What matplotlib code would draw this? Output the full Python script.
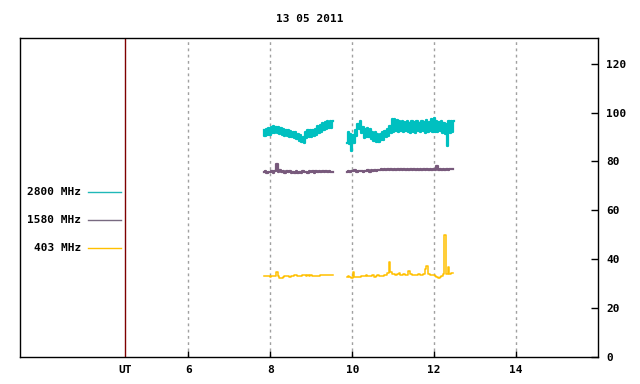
import numpy as np
import matplotlib
matplotlib.use("Agg")
import matplotlib.pyplot as plt
from matplotlib.lines import Line2D

title = "13 05 2011"
x_ticks = [4.45, 6, 8, 10, 12, 14]
x_tick_labels = ["UT", "6", "8", "10", "12", "14"]
y_ticks = [0, 20, 40, 60, 80, 100, 120]
grid_hours = [6, 8, 10, 12, 14]
ut_hour = 4.45
labels = ["2800 MHz", "1580 MHz", "403 MHz"]
colors = ["#00c0c0", "#785a7c", "#ffc000"]
legend_colors = ["#20b8b8", "#786a80", "#ffc000"]

seg1_start, seg2_start = 7.84, 9.87
step_fast, step_slow = 0.03, 0.04

f2800_seg1 = [92.9, 90.4, 93.3, 90.8, 93.5, 91.0, 94.0, 91.6, 94.4, 91.8, 94.2, 91.5,
              93.9, 91.2, 93.6, 90.9, 93.3, 90.6, 93.0, 90.4, 92.8, 90.2, 92.6, 89.9,
              92.2, 89.5, 91.9, 89.1, 91.4, 88.5, 90.9, 87.9, 90.2, 87.5, 92.2, 89.6,
              93.0, 90.2, 92.7, 90.0, 93.0, 90.5, 93.4, 90.9, 94.4, 91.7, 95.0, 92.2,
              95.7, 92.8, 96.0, 93.1, 96.4, 93.6, 96.7, 93.8, 96.4]
f2800_seg2 = [87.6, 91.9, 87.1, 91.4, 84.1, 90.9, 87.6, 92.9, 90.6, 95.4, 93.1, 96.4,
              91.6, 93.9, 89.6, 93.2, 89.8, 93.6, 90.1, 93.2, 89.1, 92.2, 88.3, 91.9,
              87.8, 91.2, 88.1, 91.4, 88.6, 91.9, 88.9, 92.4, 89.8, 93.2, 90.6, 94.6,
              91.6, 97.4, 92.1, 97.2, 92.6, 96.9, 92.2, 96.6, 92.6, 96.4, 91.9, 96.2,
              92.4, 96.7, 92.1, 95.9, 91.8, 96.4, 92.2, 96.1, 91.6, 96.6, 92.5, 95.8,
              92.0, 96.5, 92.3, 96.2, 91.7, 96.8, 92.1, 96.3, 92.4, 97.2, 92.0, 97.7,
              92.2, 96.4, 91.9, 96.1, 92.3, 96.6, 91.6, 95.9, 91.1, 95.2, 86.4, 96.4,
              91.6, 96.6, 92.1, 96.4]

f1580_seg1 = [75.5, 75.9, 75.3, 75.8, 75.6, 76.0, 75.4, 75.9, 79.0, 75.7, 76.3, 75.6,
              76.1, 75.3, 75.9, 75.5, 76.0, 75.2, 75.8, 75.4, 75.9, 75.1, 75.7, 75.3,
              75.9, 75.5, 75.8, 75.2, 75.9, 75.6, 76.0, 75.4, 75.9, 75.6, 76.1, 75.5,
              75.9, 75.6, 76.1, 75.7, 76.0, 75.5, 75.8]
f1580_seg2 = [75.8, 76.2, 75.6, 76.1, 75.9, 76.3, 75.8, 76.2, 75.9, 76.1, 75.7, 76.2,
              75.9, 76.3, 75.8, 76.4, 76.0, 76.5, 76.1, 76.6, 76.3, 76.8, 76.4, 76.9,
              76.5, 77.0, 76.6, 76.9, 76.5, 77.0, 76.6, 76.9, 76.5, 77.0, 76.7, 76.9,
              76.6, 77.0, 76.7, 76.9, 76.5, 76.9, 76.6, 77.0, 76.7, 76.9, 76.6, 77.0,
              76.6, 76.9, 76.6, 76.9, 76.7, 76.9, 76.6, 78.0, 76.7, 76.9, 76.6, 77.0,
              76.7, 76.9, 76.6, 77.0, 76.8, 76.9]

f403_seg1 = [33.0, 33.2, 33.1, 33.3, 32.9, 33.0, 33.1, 33.3, 34.8, 33.0, 32.4, 32.3,
             32.6, 33.1, 33.0, 33.2, 32.9, 33.0, 33.2, 33.4, 33.4, 33.1, 33.0, 33.2,
             33.5, 33.6, 33.3, 33.7, 33.2, 33.5, 33.3, 33.1, 33.0, 33.2, 33.3, 33.5,
             33.4, 33.6, 33.5, 33.5, 33.6, 33.5, 33.5]
f403_seg2 = [32.9, 33.1, 32.6, 32.5, 34.6, 32.6, 32.6, 32.7, 32.9, 33.1, 33.1, 33.0,
             33.4, 33.2, 33.3, 33.2, 33.5, 32.9, 33.0, 33.6, 33.3, 33.2, 33.3, 33.4,
             33.4, 34.4, 39.0, 34.6, 34.0, 33.8, 33.6, 33.9, 34.2, 33.7, 33.5, 33.8,
             33.6, 33.4, 35.0, 33.8, 33.6, 33.5, 33.7, 33.6, 33.9, 33.7, 33.5, 33.8,
             35.8, 37.2, 34.0, 33.6, 33.5, 33.4, 33.2, 32.8, 32.3, 32.7, 33.2, 33.8,
             49.9, 34.0, 36.9, 34.0, 34.3, 34.2]

series = [
    [(seg1_start, step_fast, f2800_seg1), (seg2_start, step_fast, f2800_seg2)],
    [(seg1_start, step_slow, f1580_seg1), (seg2_start, step_slow, f1580_seg2)],
    [(seg1_start, step_slow, f403_seg1), (seg2_start, step_slow, f403_seg2)],
]
widths = [1.6, 1.6, 1.1]

W, H = 640, 384
fig = plt.figure(figsize=(W / 100, H / 100), dpi=100)
ax = fig.add_axes([20 / W, 1 - 357 / H, (598 - 20) / W, (357 - 38) / H])
ax.set_xlim(1.887, 16.0)
ax.set_ylim(0, 130.5)

font = dict(family="DejaVu Sans Mono", weight="bold", size=8)

for x in grid_hours:
    ax.axvline(x, color="#a0a0a0", lw=1, linestyle=(0, (2, 2.5)), zorder=1)
ax.axvline(ut_hour, color="#7f0000", lw=1, zorder=2)

for segs, c, w in zip(series, colors, widths):
    for start, step, vals in segs:
        t = start + step * np.arange(len(vals))
        ax.plot(t, vals, color=c, lw=w, drawstyle="steps-mid", zorder=3)

for s in ["left", "right", "top", "bottom"]:
    ax.spines[s].set_linewidth(1)
    ax.spines[s].set_color("black")

ax.yaxis.tick_right()
ax.set_yticks(y_ticks)
ax.set_yticklabels([str(v) for v in y_ticks], **font)
ax.tick_params(axis="y", direction="in", length=5, width=1, pad=6, right=True, left=False)
ax.set_xticks(x_ticks)
ax.set_xticklabels(x_tick_labels, **font)
ax.tick_params(axis="x", direction="in", length=4, width=1, pad=6, top=False)
ax.xaxis.get_major_ticks()[0].tick1line.set_visible(False)

fig.text(310 / W, 1 - 19 / H, title, ha="center", va="center", **font)

rows_y = [191.7, 219.7, 248.3]
for lab, lc, yy in zip(labels, legend_colors, rows_y):
    fy = 1 - yy / H
    fig.text(81 / W, fy, lab, ha="right", va="center", **font)
    fig.add_artist(Line2D([88 / W, 121 / W], [fy, fy], color=lc, lw=1,
                          transform=fig.transFigure))

fig.savefig("out.png", dpi=100)
